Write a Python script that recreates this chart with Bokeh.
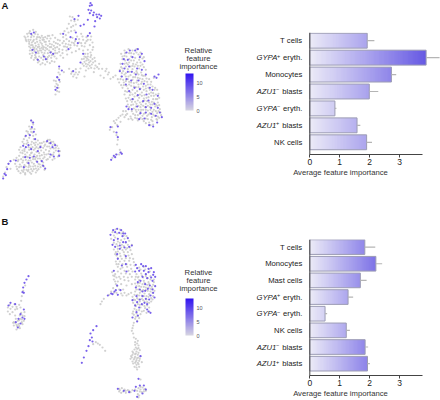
from bokeh.plotting import figure
from bokeh.layouts import column, row
from bokeh.models import Range1d, LinearColorMapper, ColorBar, FixedTicker, Label, Span
from bokeh.core.properties import value
from bokeh.embed import file_html
from bokeh.resources import INLINE
import numpy as np

# ---------- data ----------
cats_a = ["T cells", "GYPA+ eryth.", "Monocytes", "AZU1- blasts", "GYPA- eryth.", "AZU1+ blasts", "NK cells"]
vals_a = [1.92, 3.89, 2.73, 1.99, 0.84, 1.58, 1.90]
errs_a = [2.16, 4.34, 2.89, 2.29, 0.89, 1.69, 2.08]
cats_b = ["T cells", "Monocytes", "Mast cells", "GYPA+ eryth.", "GYPA- eryth.", "NK cells", "AZU1- blasts", "AZU1+ blasts"]
vals_b = [1.84, 2.21, 1.69, 1.28, 0.51, 1.22, 1.85, 1.93]
errs_b = [2.19, 2.42, 1.90, 1.45, 0.58, 1.34, 1.95, 2.01]
x_ticks = [0, 1, 2, 3]
cb_ticks = [0, 5, 10]

a_grey = [(75,112),(80,100),(88,92),(98,88),(106,94),(112,102),(124,106),(134,110),(146,106),(156,104),(164,112),(78,122),(84,118),(92,110),(100,108),(108,116),(118,120),(126,118),(86,130),(94,126),(104,128),(114,132),(124,130),(136,124),(146,122),(90,142),(98,140),(108,146),(118,144),(130,140),(142,136),(154,132),(166,128),(88,160),(96,158),(104,164),(114,158),(124,156),(134,150),(146,150),(158,146),(170,140),(92,172),(100,178),(110,176),(122,172),(134,170),(146,166),(158,162),(170,158),(112,186),(126,188),(140,184),(154,182),(168,174),(180,165),(178,120),(188,110),(196,104),(204,96),(212,92),(222,90),(180,100),(192,92),(200,84),(205,70),(212,60),(216,50),(208,48),(222,62),(232,58),(196,130),(206,122),(216,112),(230,108),(242,100),(186,148),(198,150),(210,142),(222,134),(236,126),(248,118),(258,110),(270,118),(276,126),(268,134),(278,140),(262,148),(270,156),
(250,175),(256,170),(262,168),(270,170),(276,176),(252,184),(258,180),(264,178),(270,182),(278,186),(256,190),(262,192),(268,196),(274,192),(246,190),(260,174),(266,186),(272,164),(285,195),(295,205),(305,205),(315,212),(325,216),(300,225),(310,232),(330,235),(345,225),(280,215),(252,228),(236,215),(214,214),(222,222),(228,232),(232,222),(218,228),(206,205),(190,215),(176,205),(172,232),(178,244),(168,250),(174,262),(170,272),(165,282),(160,240),
(362,160),(372,150),(384,146),(396,150),(408,146),(420,156),(430,170),(366,176),(378,168),(392,168),(404,172),(416,178),(360,190),(372,190),(386,186),(398,190),(412,196),(426,192),(436,208),(358,208),(368,212),(382,206),(396,206),(408,212),(422,216),(434,226),(362,228),(376,228),(390,224),(404,230),(418,234),(432,242),(446,236),(460,232),(356,246),(370,246),(386,244),(400,248),(414,252),(428,258),(442,252),(456,258),(470,268),(366,262),(382,264),(396,268),(410,272),(424,276),(438,272),(452,276),(466,282),(476,292),(372,282),(388,284),(402,288),(416,292),(430,294),(444,290),(458,296),(472,306),(380,302),(394,304),(408,310),(422,312),(436,310),(450,312),(464,318),(478,326),(386,320),(400,324),(414,328),(428,328),(442,330),(456,334),(470,338),(482,344),(398,340),(412,344),(426,346),(440,346),(454,350),(468,356),(380,340),(366,342),(354,352),(360,364),(372,350),(384,356),(396,358),(412,360),(430,362),(446,366),(458,372),(340,362),(350,374),(335,380),(328,388),(340,394),(348,404),(352,418),(350,432),(358,448),(346,462),(336,472),(356,462),(362,456),
(92,360),(98,372),(86,378),(102,386),(78,392),(92,394),(106,402),(74,408),(86,412),(100,416),(112,420),(66,424),(78,430),(92,432),(104,434),(118,428),(130,424),(142,418),(152,424),(162,430),(60,440),(72,446),(86,448),(100,448),(114,444),(128,442),(140,438),(174,444),(60,456),(74,462),(88,464),(102,462),(116,458),(130,456),(146,452),(160,456),(176,462),(48,472),(62,476),(76,478),(90,480),(104,476),(118,474),(132,470),(148,470),(162,474),(44,490),(58,492),(72,494),(86,494),(100,490),(114,490),(128,486),(50,506),(64,510),(78,508),(92,506),(106,504),(120,500),(132,508),(60,518),(74,518),(88,516),(24,490),(18,500),(14,516),(8,528),(30,505),(40,478),
(82,108),(90,118),(100,118),(110,124),(120,112),(130,118),(140,114),(150,114),(96,134),(106,136),(116,138),(126,136),(136,132),(148,130),(160,124),(172,118),(94,150),(102,152),(112,152),(122,150),(132,158),(142,158),(152,154),(164,150),(176,146),(106,170),(116,168),(128,164),(140,176),(152,172),(162,168),(186,128),(194,138),(204,132),(214,126),(224,122),(236,116),(246,108),(254,128),(244,136),(236,146),(226,152),(214,156),(200,162),(188,172),(254,160),(262,160),(248,150),(190,122),(218,76),(226,72),(212,80),(198,116),
(366,168),(374,158),(386,158),(400,160),(414,162),(426,174),(374,180),(386,176),(400,180),(410,186),(420,186),(362,200),(376,198),(390,198),(402,198),(416,204),(430,200),(364,218),(376,218),(388,214),(402,218),(414,222),(428,226),(368,238),(382,236),(396,238),(410,240),(424,244),(440,244),(452,244),(362,254),(378,256),(392,256),(406,260),(420,264),(436,264),(448,268),(462,268),(374,272),(390,276),(404,278),(418,282),(432,284),(446,280),(460,286),(470,296),(384,292),(398,296),(412,300),(426,304),(440,302),(454,304),(466,312),(392,314),(406,318),(420,320),(434,320),(448,320),(460,328),(474,332),(408,334),(420,334),(434,338),(448,338),(462,346),(476,352),(404,352),(420,352),(436,354),(452,358),(390,348),(376,344),
(94,384),(84,400),(98,406),(70,416),(80,420),(94,424),(106,426),(84,440),(96,440),(108,440),(120,436),(134,432),(146,428),(156,434),(166,442),(66,450),(80,456),(94,456),(108,454),(122,450),(136,448),(150,444),(166,450),(56,466),(68,470),(82,470),(96,470),(110,466),(124,464),(138,462),(154,464),(52,482),(66,486),(80,486),(94,486),(108,482),(122,480),(138,478),(56,500),(70,502),(84,500),(98,498),(112,498),(126,494),(68,514),(82,512),(96,512),(110,510),
(296,190),(290,200),(318,205),(322,222),(338,230),(352,236),
(76,118),(72,108),(86,98),(94,104),(104,100),(116,110),(128,112),(142,106),(86,124),(98,122),(110,110),(120,126),(132,124),(86,138),(92,134),(102,142),(112,140),(124,142),(136,142),(148,140),(160,136),(172,130),(88,150),(100,146),(108,158),(118,150),(128,146),(140,146),(152,140),(164,142),(178,134),(94,166),(104,172),(116,182),(128,178),(142,170),(154,164),(164,158),(176,154),(186,158),(120,192),(134,192),(148,188),(162,184),(190,138),(200,140),(210,134),(220,128),(230,136),(242,128),(252,138),(258,122),(262,118),(272,108),(276,148),(252,168),(244,176),(282,172),(284,182),(250,196),(258,198),(272,202),(264,204),(282,204),(256,210),(240,204),(226,206),(212,220),(226,216),(174,216),(178,222),(166,242),(172,254),(164,258),(176,274),
(372,166),(392,158),(408,156),(420,166),(378,188),(392,180),(406,192),(420,196),(366,204),(382,192),(396,196),(410,218),(424,224),(372,222),(384,228),(398,230),(412,232),(426,236),(438,234),(360,236),(376,242),(392,246),(408,246),(422,250),(436,256),(450,252),(464,262),(370,254),(386,252),(400,258),(414,260),(430,268),(444,262),(458,278),(474,280),(380,274),(396,282),(410,286),(424,286),(438,292),(452,286),(466,296),(376,294),(390,298),(404,304),(418,306),(432,300),(446,306),(460,306),(476,314),(382,312),(398,312),(414,316),(428,316),(442,316),(456,312),(470,316),(394,332),(406,328),(422,328),(436,328),(450,328),(466,332),(480,336),(404,344),(418,340),(430,340),(444,342),(458,342),(472,348),(392,354),(410,354),(426,356),(442,356),(456,362),(470,358),(436,368),(450,374),(368,332),(376,332),(360,346),(348,358),(344,368),
(96,366),(90,386),(82,394),(96,396),(70,430),(82,426),(100,428),(112,432),(124,428),(138,424),(148,418),(158,424),(170,436),(56,448),(72,452),(90,442),(104,444),(118,440),(132,436),(146,438),(160,444),(178,452),(66,458),(78,468),(92,458),(106,470),(118,466),(132,462),(144,460),(158,462),(172,468),(54,478),(68,480),(84,480),(98,476),(112,474),(128,474),(142,476),(156,478),(48,498),(62,498),(76,498),(90,498),(104,496),(118,492),(130,498),(54,512),(70,508),(84,508),(100,506),(114,506),(74,522),(92,520),(106,516)]
a_purple = [(270,8),(268,16),(274,14),(264,28),(272,30),(280,36),(288,42),(296,42),(302,46),(298,54),(290,50),(278,44),(268,38),(284,62),(282,78),(262,58),(250,72),(240,76),(222,56),(234,46),(188,100),(226,96),(210,110),(268,98),(262,106),(232,128),(226,116),(204,146),(100,96),(92,100),(96,148),(106,156),(150,156),(158,160),(130,168),(136,176),(112,178),(176,198),(184,210),(170,230),(176,238),(170,262),(165,268),(240,186),(248,160),(218,212),
(378,156),(388,150),(404,150),(412,146),(424,160),(370,176),(366,190),(382,178),(396,170),(418,170),(432,182),(358,212),(372,204),(386,198),(394,214),(410,204),(424,208),(364,228),(378,236),(392,240),(382,214),(406,222),(436,222),(462,228),(474,222),(468,232),(376,252),(414,240),(430,250),(448,262),(402,262),(418,266),(386,272),(438,282),(456,268),(472,286),(396,296),(412,284),(428,302),(444,300),(462,310),(378,318),(394,326),(410,318),(436,320),(452,322),(472,322),(478,336),(484,350),(420,338),(436,336),(452,340),(466,346),(416,356),(432,354),(446,374),(458,378),(470,366),(384,326),(330,380),(352,378),(348,396),(352,410),(332,478),(340,466),(348,462),(360,456),(364,460),(344,470),
(92,360),(98,366),(94,380),(100,394),(76,406),(88,404),(104,416),(68,436),(76,440),(84,434),(92,446),(112,452),(120,440),(74,470),(88,472),(100,468),(110,484),(124,482),(140,422),(150,428),(156,440),(164,434),(174,452),(176,466),(160,468),(150,462),(128,496),(134,504),(70,500),(84,488),(46,480),(30,482),(24,490),(20,506),(12,520),(8,534),(16,524)]

b_grey = [(336,80),(345,72),(358,72),(368,80),(378,92),(386,106),(394,118),(332,100),(340,112),(352,122),(364,118),(376,112),(340,132),(352,138),(366,134),(380,128),(390,134),(348,150),(360,152),(372,148),(384,150),(346,168),(358,168),(372,166),(386,166),(400,170),(352,184),(366,186),(380,184),(392,190),(335,200),(344,206),(352,198),(362,204),(376,204),(388,206),(340,222),(352,228),(362,236),(350,242),(338,248),(326,268),(340,262),(362,264),(372,262),(384,266),(404,234),(416,186),(430,184),(446,190),(408,206),(422,204),(436,206),(450,212),(460,222),(404,222),(416,224),(430,226),(444,230),(458,238),(408,242),(422,244),(436,246),(450,250),(462,256),(404,258),(418,262),(432,264),(446,266),(458,272),(396,274),(410,278),(424,280),(438,282),(452,288),(398,292),(412,296),(426,298),(440,300),(402,310),(416,314),(430,316),(446,318),(400,328),(412,332),(410,346),(398,360),(394,376),(400,396),(404,410),(412,406),(414,420),(402,432),(410,430),(418,434),(396,448),(404,446),(412,448),(420,452),(390,460),(400,462),(408,464),(416,466),(398,474),(408,478),(416,484),(410,492),(424,470),(406,468),(414,456),(420,522),(356,550),(364,548),(372,552),(382,554),(390,560),(376,562),(362,562),(404,552),(414,548),(426,546),(434,550),(424,560),(412,566),(414,576),(304,288),(300,296),(310,280),(22,318),(28,326),(36,320),(44,330),(50,310),(56,298),(62,286),(64,272),(28,298),(42,296),(44,352),(52,346),(60,340),(70,346),(40,360),(50,362),(58,368),(48,372),(66,330),(72,320),(62,322),(74,240),(68,256),(286,410),(298,418),(306,426),(314,436),(292,414),(278,416),
(344,96),(352,108),(362,104),(372,100),(346,140),(358,144),(370,140),(382,140),(394,146),(354,176),(366,176),(378,176),(390,178),(402,180),(342,212),(356,214),(370,214),(382,216),(394,214),(346,236),(356,252),(368,252),(378,240),(414,214),(428,216),(442,218),(412,234),(426,236),(440,238),(454,244),(414,252),(428,254),(442,256),(456,262),(410,268),(424,270),(438,272),(452,278),(404,284),(418,288),(432,288),(446,292),(406,302),(420,306),(434,308),(398,318),(408,324),(420,326),(404,340),(396,368),(404,418),(396,438),(408,438),(392,452),(404,454),(412,472),(402,484),(368,558),(356,558),(420,552),(430,558),(418,558),(46,340),(38,352),(54,356),(64,350),(58,330),(30,310),(44,312),
(340,90),(350,84),(362,84),(370,90),(348,116),(358,112),(370,122),(382,118),(344,146),(352,130),(362,126),(376,132),(388,126),(352,158),(364,160),(376,158),(388,158),(398,160),(348,176),(360,190),(372,196),(384,196),(396,198),(338,210),(348,216),(360,220),(372,224),(384,226),(394,236),(344,228),(332,258),(348,262),(366,270),(378,270),(392,262),(420,192),(434,192),(448,198),(412,216),(424,210),(436,212),(450,222),(406,214),(418,232),(432,232),(446,236),(460,230),(416,242),(430,244),(444,246),(456,250),(408,252),(422,256),(436,254),(450,258),(402,268),(416,270),(430,272),(444,274),(456,282),(400,282),(414,282),(428,284),(440,290),(404,298),(418,298),(432,302),(446,306),(408,314),(424,318),(438,322),(396,324),(406,334),(416,338),(400,352),(398,384),(406,400),(410,414),(406,426),(414,428),(398,442),(406,444),(414,442),(394,456),(402,458),(410,458),(418,460),(396,468),(404,472),(414,476),(408,486),(358,554),(376,556),(386,556),(396,554),(410,556),(420,544),(430,552),(436,556),(416,570),(40,350),(48,358),(56,344),(64,342),(72,332),(56,362),(66,356),(36,304),(22,306),(48,304),(60,306)]
b_purple = [(330,88),(338,74),(350,70),(362,74),(374,84),(382,98),(376,110),(366,92),(336,118),(344,124),(358,130),(372,126),(386,124),(394,120),(352,160),(376,176),(364,180),(406,178),(422,176),(436,182),(452,188),(460,200),(464,214),(416,196),(430,196),(444,200),(426,214),(440,218),(456,226),(412,230),(448,240),(464,242),(418,252),(434,256),(458,262),(462,276),(408,272),(426,272),(446,282),(396,284),(410,290),(432,292),(416,306),(440,312),(450,322),(408,320),(396,336),(410,348),(346,254),(336,266),(322,270),(352,268),(360,254),(350,240),(340,196),(378,198),(404,198),(420,452),(414,520),(352,550),(370,556),(386,560),(406,544),(418,540),(430,540),(436,552),(426,564),(410,574),(402,556),(84,212),(78,222),(72,232),(68,246),(66,260),(70,262),(30,292),(24,300),(44,296),(70,312),(60,326),(66,336),(54,340),(46,350),(60,354),(72,340),(52,366),(288,362),(278,374),(270,384),(274,396),(268,404),(276,408),(264,422),(258,436),(250,456),(244,472),
(344,80),(356,82),(368,84),(352,100),(340,104),(358,120),(368,110),(350,146),(376,152),(428,182),(444,190),(458,208),(410,188),(436,206),(452,216),(420,226),(434,236),(406,246),(442,250),(456,252),(426,258),(450,270),(418,282),(436,280),(404,300),(424,296),(440,296),(412,330),(444,318),(332,264),(342,258)]

PURPLE = "#6a50ea"
GREY = "#c9c9c9"
TICKF = "Liberation Sans"


def label_run(p, i, cat):
    """y label: italic gene name, sup sign, plain remainder."""
    words = cat.split(" ")
    kw = dict(text_font=value(TICKF), text_font_size="7.7px", text_color="#222222", text_baseline="middle", text_align="right")
    if words[0][-1] in "+-" and len(words[0]) > 2:
        gene, sign = words[0][:-1], words[0][-1]
        rest = " ".join(words[1:])
        wrest = {"eryth.": 22.0, "blasts": 23.0}[rest]
        p.text(x=[0], y=[i], text=[rest], x_offset=-7.5, **kw)
        k3 = dict(kw); k3["text_font_size"] = "5.5px"
        p.text(x=[0], y=[i], text=["+" if sign == "+" else "\u2212"], x_offset=-7.5 - wrest, y_offset=-2, **k3)
        k2 = dict(kw); k2["text_font_style"] = "italic"
        p.text(x=[0], y=[i], text=[gene], x_offset=-7.5 - wrest - 3, **k2)
    else:
        p.text(x=[0], y=[i], text=[cat], x_offset=-7.5, **kw)


def bars(cats, vals, errs, top, bottom, height, first_px, pitch, grad_top):
    frame_h = height - top - bottom
    y_top = -(first_px - top) / pitch
    y_bot = y_top + frame_h / pitch
    p = figure(width=200, height=height, output_backend="svg", toolbar_location=None,
               x_range=Range1d(-69.3 / 29.9, 130.7 / 29.9), y_range=Range1d(y_bot, y_top),
               min_border_left=0, min_border_right=0, min_border_top=top, min_border_bottom=bottom,
               outline_line_color=None, background_fill_color=None, border_fill_color=None, frame_align=False)
    p.xgrid.visible = False
    p.ygrid.visible = False
    mapper = LinearColorMapper(palette=[
        "#%02x%02x%02x" % tuple(int(round(a + (b - a) * t)) for a, b in zip((236, 235, 247), (92, 78, 226)))
        for t in np.linspace(0, 1, 128)], low=0, high=grad_top)
    ys = list(range(len(cats)))
    for i, v in zip(ys, vals):
        p.image(image=[np.linspace(0, v, 96)[None, :]], x=0, y=i - 0.44, dw=v, dh=0.88, color_mapper=mapper)
    p.hbar(y=ys, left=0, right=vals, height=0.88, fill_color=None, line_color="#9c9cb4", line_width=1.0)
    p.segment(x0=vals, x1=errs, y0=ys, y1=ys, line_color="#b5b5b5", line_width=1.2)
    for i, c in zip(ys, cats):
        label_run(p, i, c)
    p.add_layout(Span(location=0, dimension="height", line_color="#444444", line_width=1))
    ax = p.xaxis[0]
    ax.bounds = (0, 3.77)
    ax.ticker = FixedTicker(ticks=x_ticks)
    ax.axis_label = "Average feature importance"
    ax.axis_label_text_font = TICKF
    ax.axis_label_text_font_size = "7.7px"
    ax.axis_label_text_font_style = "normal"
    ax.axis_label_text_color = "#333333"
    ax.axis_label_standoff = 0
    ax.major_label_text_font = TICKF
    ax.major_label_text_font_size = "8.5px"
    ax.major_label_text_color = "#222222"
    ax.major_label_standoff = 1
    ax.major_tick_in = 0
    ax.major_tick_out = 3
    ax.minor_tick_line_color = None
    ax.axis_line_color = "#444444"
    ax.major_tick_line_color = "#444444"
    p.yaxis.visible = False
    return p


def scatter(grey, purple, y0, letter, letter_y, title_y, cb_y):
    p = figure(width=240, height=200, output_backend="svg", toolbar_location=None,
               x_range=Range1d(0, 720), y_range=Range1d(y0 + 600, y0),
               min_border=0, outline_line_color=None, background_fill_color=None, border_fill_color=None, frame_align=False)
    p.axis.visible = False
    p.grid.visible = False
    g = np.array(grey); q = np.array(purple)
    p.scatter(g[:, 0], g[:, 1], size=2.2, color=GREY, alpha=0.85, line_color=None)
    p.scatter(q[:, 0], q[:, 1], size=2.2, color=PURPLE, alpha=0.9, line_color=None)
    p.add_layout(Label(x=1, y=200 - letter_y, x_units="screen", y_units="screen", text=letter,
                       text_font=TICKF, text_font_style="bold", text_font_size="9.5px",
                       text_color="#111111", text_baseline="middle"))
    for k, t in enumerate(["Relative", "feature", "importance"]):
        p.add_layout(Label(x=198, y=200 - (title_y + 8 * k), x_units="screen", y_units="screen", text=t,
                           text_font=TICKF, text_font_size="7.7px", text_color="#333333",
                           text_align="center", text_baseline="middle"))
    mapper = LinearColorMapper(palette=[
        "#%02x%02x%02x" % tuple(int(round(a + (b - a) * t)) for a, b in zip((214, 212, 226), (50, 20, 240)))
        for t in np.linspace(0, 1, 64)], low=0, high=13.5)
    cb = ColorBar(color_mapper=mapper, ticker=FixedTicker(ticks=cb_ticks), width=8, height=37,
                  location=(185, 200 - cb_y - 37), padding=0, margin=0, background_fill_color=None,
                  major_tick_line_color=None, minor_tick_line_color=None, bar_line_color=None,
                  major_label_text_font=TICKF, major_label_text_font_size="5.5px",
                  major_label_text_color="#555555", label_standoff=3)
    p.add_layout(cb)
    return p


sa = scatter(a_grey, a_purple, 0, "A", 5, 50, 73)
sb = scatter(b_grey, b_purple, -15, "B", 21, 71.5, 98)
ba = bars(cats_a, vals_a, errs_a, 32, 46, 200, 40.2, 16.93, 4.2)
bb = bars(cats_b, vals_b, errs_b, 39, 23, 200, 46.7, 16.9, 2.9)
page = column(row(sa, ba, spacing=0), row(sb, bb, spacing=0), spacing=0)
open("out.html", "w").write(file_html(page, INLINE))
